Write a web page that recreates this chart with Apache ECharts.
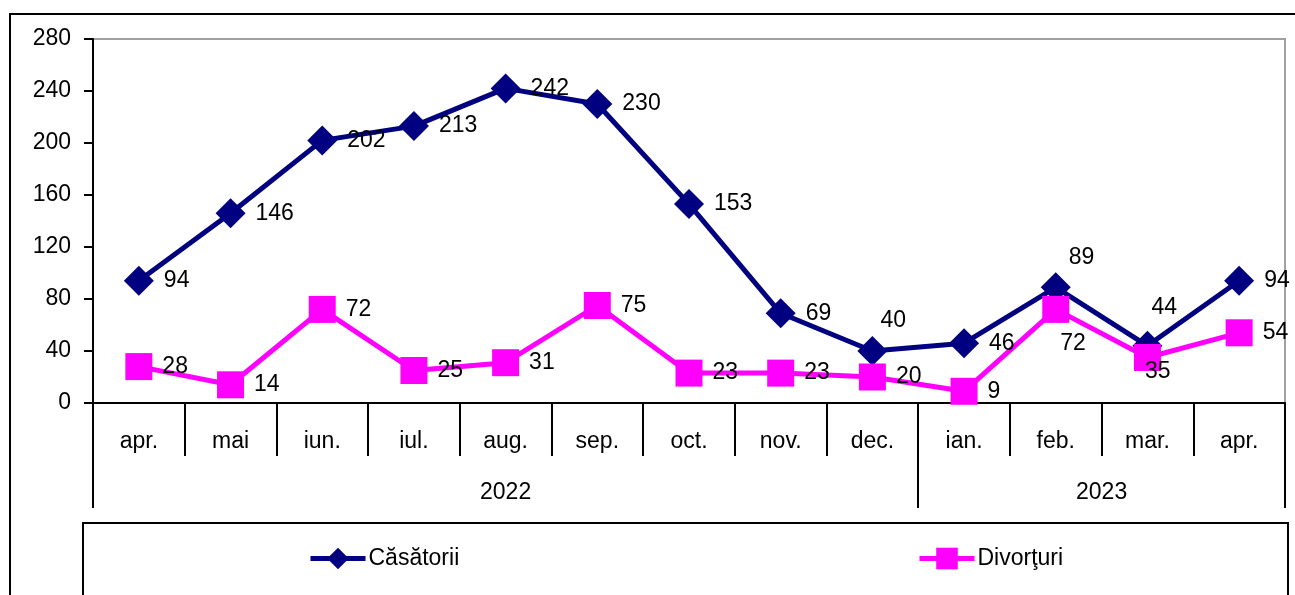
<!DOCTYPE html>
<html>
<head>
<meta charset="utf-8">
<script src="https://cdn.jsdelivr.net/npm/echarts@6/dist/echarts.min.js"></script>
<style>
html,body{margin:0;padding:0;background:#fff;}
#c{width:1295px;height:595px;}
</style>
</head>
<body>
<div id="c"></div>
<script>
const months = ['apr.','mai','iun.','iul.','aug.','sep.','oct.','nov.','dec.','ian.','feb.','mar.','apr.'];
const years = ['2022','2023'];
const yearSpans = [9,4];
const casatorii = [94,146,202,213,242,230,153,69,40,46,89,44,94];
const divorturi = [28,14,72,25,31,75,23,23,20,9,72,35,54];
const yTicks = [0,40,80,120,160,200,240,280];

// label offset tweaks (style only)
const casOffsets = {8:[-17,-30], 10:[-12,-30], 11:[-21,-38]};
const divOffsets = {10:[-19,34], 11:[-26,14]};

const FONT = 'Liberation Sans, Arial, sans-serif';
const FS = 23;

function buildData(vals, offs){
  return vals.map((v,i)=>{
    const o = {value:v};
    if (offs[i]) o.label = {offset: offs[i]};
    return o;
  });
}

const bounds = [0];
yearSpans.forEach(s=>bounds.push(bounds[bounds.length-1]+s));
const centers = yearSpans.map((s,i)=>bounds[i]+s/2);

const legendCommon = {top:547,padding:0,itemWidth:55,itemHeight:27,itemGap:5,
  lineStyle:{width:5},
  textStyle:{fontSize:FS,color:'#000',fontFamily:FONT,padding:[0,0,0,-2]}};

const chart = echarts.init(document.getElementById('c'));
chart.setOption({
  animation:false,
  textStyle:{fontFamily:FONT},
  graphic:[
    {type:'rect', shape:{x:10,y:14,width:1320,height:620}, style:{fill:'none',stroke:'#000',lineWidth:2}, z:-10},
    {type:'rect', shape:{x:83,y:523,width:1205,height:120}, style:{fill:'none',stroke:'#000',lineWidth:2}, z:-10}
  ],
  grid:{left:93,right:10,top:39,bottom:192,show:true,borderColor:'#a0a0a0',borderWidth:2,backgroundColor:'transparent'},
  legend:[
    Object.assign({data:['Căsătorii'],left:308}, legendCommon),
    Object.assign({data:['Divorţuri'],left:917}, legendCommon)
  ],
  xAxis:[
    {type:'category',data:months,boundaryGap:true,position:'bottom',
     axisLine:{show:true,lineStyle:{color:'#000',width:2}},
     axisTick:{show:true,interval:0,length:53,lineStyle:{color:'#000',width:2}},
     axisLabel:{interval:0,margin:27,fontSize:FS,color:'#000',fontFamily:FONT},
     splitLine:{show:false}},
    {type:'value',min:0,max:bounds[bounds.length-1],position:'bottom',
     axisLine:{show:false},
     axisTick:{show:true,length:105,customValues:bounds,lineStyle:{color:'#000',width:2}},
     axisLabel:{show:true,margin:78,fontSize:FS,color:'#000',fontFamily:FONT,customValues:centers,
       formatter:function(v){const i=centers.indexOf(v);return i>=0?years[i]:'';}},
     splitLine:{show:false}}
  ],
  yAxis:{type:'value',min:yTicks[0],max:yTicks[yTicks.length-1],interval:40,
     axisLine:{show:true,lineStyle:{color:'#000',width:2}},
     axisTick:{show:true,length:9,lineStyle:{color:'#000',width:2}},
     axisLabel:{margin:22,fontSize:FS,color:'#000',fontFamily:FONT},
     splitLine:{show:false}},
  series:[
    {name:'Căsătorii',type:'line',xAxisIndex:0,data:buildData(casatorii,casOffsets),
     symbol:'diamond',symbolSize:30,
     itemStyle:{color:'#000080'},lineStyle:{color:'#000080',width:5},
     label:{show:true,position:'right',distance:10,fontSize:FS,color:'#000',fontFamily:FONT}},
    {name:'Divorţuri',type:'line',xAxisIndex:0,data:buildData(divorturi,divOffsets),
     symbol:'rect',symbolSize:27,
     itemStyle:{color:'#ff00ff'},lineStyle:{color:'#ff00ff',width:5},
     label:{show:true,position:'right',distance:10,fontSize:FS,color:'#000',fontFamily:FONT}}
  ]
});
</script>
</body>
</html>
